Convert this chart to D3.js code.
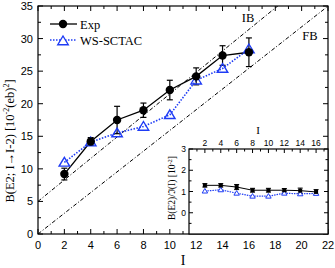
<!DOCTYPE html>
<html><head><meta charset="utf-8">
<script src="https://cdn.jsdelivr.net/npm/d3@7"></script>
<style>body{margin:0;background:#fff}svg{display:block}</style>
</head><body>
<script>
const spins = [2,4,6,8,10,12,14,16];
const expVals = [9.2,14.2,17.5,19.0,22.1,24.2,27.4,27.9];
const expErr  = [0.9,0.6,2.1,1.1,1.5,1.3,1.5,2.2];
const wsVals  = [11.0,14.1,15.5,16.5,18.3,23.6,25.4,28.4];
const insetExp = [1.29,1.29,1.21,1.06,1.06,1.06,1.04,0.98];
const insetExpErr = [0.08,0.08,0.12,0.09,0.09,0.08,0.12,0.11];
const insetWs  = [1.02,1.08,0.92,0.78,0.78,0.92,0.89,0.91];
const xTicks = [0,2,4,6,8,10,12,14,16,18,20,22];
const yTicks = [0,5,10,15,20,25,30,35];
const insetXTicks = [2,4,6,8,10,12,14,16];
const insetYTicks = [0,1,2,3];
const ibLine = {intercept:5.0, slope:1.65};
const fbLine = {intercept:0, slope:1.59};

const W=335,H=268;
const svg=d3.select("body").append("svg").attr("width",W).attr("height",H);
const L=38,R=328,T=6,B=234;
const x=d3.scaleLinear().domain([0,22]).range([L,R]);
const y=d3.scaleLinear().domain([0,35]).range([B,T]);
const blue="#1f3cf5";
const sans="Liberation Sans, Arial, sans-serif", serif="Liberation Serif, Times New Roman, serif";

svg.append("clipPath").attr("id","c").append("rect").attr("x",L).attr("y",T).attr("width",R-L).attr("height",B-T);
const g=svg.append("g").attr("clip-path","url(#c)");
[ibLine,fbLine].forEach(l=>{
  g.append("line").attr("x1",x(0)).attr("y1",y(l.intercept)).attr("x2",x(22)).attr("y2",y(l.intercept+l.slope*22))
   .attr("stroke","#000").attr("stroke-width",1).attr("stroke-dasharray","4,2,1,2");
});
const line=d3.line().x((d,i)=>x(spins[i])).y(d=>y(d));
g.append("path").attr("d",line(wsVals)).attr("fill","none").attr("stroke",blue).attr("stroke-width",1.6).attr("stroke-dasharray","1.5,1.5");
g.append("path").attr("d",line(expVals)).attr("fill","none").attr("stroke","#000").attr("stroke-width",1.3);
spins.forEach((s,i)=>{
  const cx=x(s);
  g.append("line").attr("x1",cx).attr("x2",cx).attr("y1",y(expVals[i]-expErr[i])).attr("y2",y(expVals[i]+expErr[i])).attr("stroke","#000").attr("stroke-width",1.2);
  [expVals[i]-expErr[i],expVals[i]+expErr[i]].forEach(v=>g.append("line").attr("x1",cx-3).attr("x2",cx+3).attr("y1",y(v)).attr("y2",y(v)).attr("stroke","#000").attr("stroke-width",1.2));
});
const tri=(cx,cy,s)=>`M${cx},${cy-s}L${cx+s*1.05},${cy+s*0.75}L${cx-s*1.05},${cy+s*0.75}Z`;
spins.forEach((s,i)=>{
  g.append("path").attr("d",tri(x(s),y(wsVals[i]),5)).attr("fill","none").attr("stroke",blue).attr("stroke-width",1.4);
});
spins.forEach((s,i)=>{
  g.append("circle").attr("cx",x(s)).attr("cy",y(expVals[i])).attr("r",4.2).attr("fill","#000");
});

svg.append("rect").attr("x",L).attr("y",T).attr("width",R-L).attr("height",B-T).attr("fill","none").attr("stroke","#000").attr("stroke-width",1.2);
function ticksX(scale,vals,minorVals,yPos,dir,len,mlen){
  vals.forEach(v=>svg.append("line").attr("x1",scale(v)).attr("x2",scale(v)).attr("y1",yPos).attr("y2",yPos+dir*len).attr("stroke","#000").attr("stroke-width",1));
  minorVals.forEach(v=>svg.append("line").attr("x1",scale(v)).attr("x2",scale(v)).attr("y1",yPos).attr("y2",yPos+dir*mlen).attr("stroke","#000").attr("stroke-width",1));
}
function ticksY(scale,vals,minorVals,xPos,dir,len,mlen){
  vals.forEach(v=>svg.append("line").attr("y1",scale(v)).attr("y2",scale(v)).attr("x1",xPos).attr("x2",xPos+dir*len).attr("stroke","#000").attr("stroke-width",1));
  minorVals.forEach(v=>svg.append("line").attr("y1",scale(v)).attr("y2",scale(v)).attr("x1",xPos).attr("x2",xPos+dir*mlen).attr("stroke","#000").attr("stroke-width",1));
}
const xMinor=d3.range(1,22,2), yMinor=d3.range(2.5,35,5);
ticksX(x,xTicks,xMinor,B,-1,5,3);
ticksX(x,xTicks,xMinor,T,1,5,3);
ticksY(y,yTicks,yMinor,L,1,5,3);
ticksY(y,yTicks,yMinor,R,-1,5,3);
xTicks.forEach(v=>svg.append("text").attr("x",x(v)).attr("y",B+15).attr("text-anchor","middle").attr("font-family",sans).attr("font-size",11).text(v));
yTicks.forEach(v=>svg.append("text").attr("x",L-5).attr("y",y(v)+4).attr("text-anchor","end").attr("font-family",sans).attr("font-size",11).text(v));
svg.append("text").attr("x",183).attr("y",265).attr("text-anchor","middle").attr("font-family",serif).attr("font-size",14).text("I");
const yl=svg.append("text").attr("transform","translate(14,141) rotate(-90)").attr("text-anchor","middle").attr("font-family",serif).attr("font-size",12.5);
yl.append("tspan").text("B(E2; I→I-2) [10");
yl.append("tspan").attr("dy",-5).attr("font-size",8).text("-2");
yl.append("tspan").attr("dy",5).text("(eb)");
yl.append("tspan").attr("dy",-5).attr("font-size",8).text("2");
yl.append("tspan").attr("dy",5).text("]");

svg.append("text").attr("x",248).attr("y",22).attr("text-anchor","middle").attr("font-family",serif).attr("font-size",12.5).text("IB");
svg.append("text").attr("x",310).attr("y",40).attr("text-anchor","middle").attr("font-family",serif).attr("font-size",12.5).text("FB");

svg.append("line").attr("x1",50).attr("x2",77).attr("y1",24).attr("y2",24).attr("stroke","#000").attr("stroke-width",1.3);
svg.append("circle").attr("cx",63).attr("cy",24).attr("r",4.2).attr("fill","#000");
svg.append("text").attr("x",80).attr("y",28.5).attr("font-family",serif).attr("font-size",12.5).text("Exp");
svg.append("line").attr("x1",50).attr("x2",77).attr("y1",40).attr("y2",40).attr("stroke",blue).attr("stroke-width",1.6).attr("stroke-dasharray","1.5,1.5");
svg.append("path").attr("d",tri(63,41,5)).attr("fill","#fff").attr("stroke",blue).attr("stroke-width",1.4);
svg.append("text").attr("x",80).attr("y",44.5).attr("font-family",serif).attr("font-size",12.5).text("WS-SCTAC");

const iL=189,iR=328,iT=149,iB=234;
const ix=d3.scaleLinear().domain([0,17.5]).range([iL,iR]);
const iy=d3.scaleLinear().domain([-1,3]).range([iB,iT]);
svg.append("rect").attr("x",iL).attr("y",iT).attr("width",iR-iL).attr("height",iB-iT).attr("fill","#fff").attr("stroke","#000").attr("stroke-width",1.2);
const iline=d3.line().x((d,i)=>ix(spins[i])).y(d=>iy(d));
svg.append("path").attr("d",iline(insetWs)).attr("fill","none").attr("stroke",blue).attr("stroke-width",1.2).attr("stroke-dasharray","1.5,1");
svg.append("path").attr("d",iline(insetExp)).attr("fill","none").attr("stroke","#000").attr("stroke-width",1);
spins.forEach((s,i)=>{
  const cx=ix(s);
  const lo=iy(insetExp[i]-insetExpErr[i]),hi=iy(insetExp[i]+insetExpErr[i]);
  svg.append("line").attr("x1",cx).attr("x2",cx).attr("y1",lo).attr("y2",hi).attr("stroke","#000");
  [lo,hi].forEach(v=>svg.append("line").attr("x1",cx-2.5).attr("x2",cx+2.5).attr("y1",v).attr("y2",v).attr("stroke","#000"));
  svg.append("path").attr("d",tri(cx,iy(insetWs[i]),2.6)).attr("fill","#fff").attr("stroke",blue).attr("stroke-width",1);
  svg.append("rect").attr("x",cx-2).attr("y",iy(insetExp[i])-2).attr("width",4).attr("height",4).attr("fill","#000");
});
const ixMinor=d3.range(1,17.5,2), iyMinor=[-0.5,0.5,1.5,2.5];
ticksX(ix,insetXTicks,ixMinor,iT,1,4,2.5);
ticksY(iy,insetYTicks,iyMinor,iL,1,4,2.5);
ticksY(iy,insetYTicks,iyMinor,iR,-1,4,2.5);
insetXTicks.forEach(v=>svg.append("text").attr("x",ix(v)).attr("y",iT-3).attr("text-anchor","middle").attr("font-family",sans).attr("font-size",8.5).text(v));
insetYTicks.forEach(v=>svg.append("text").attr("x",iL-3).attr("y",iy(v)+3).attr("text-anchor","end").attr("font-family",sans).attr("font-size",8.5).text(v));
svg.append("text").attr("x",258).attr("y",134).attr("text-anchor","middle").attr("font-family",serif).attr("font-size",11).text("I");
const il=svg.append("text").attr("transform","translate(175,188) rotate(-90)").attr("text-anchor","middle").attr("font-family",serif).attr("font-size",9.5);
il.append("tspan").text("B(E2)/ℑ(I) [10");
il.append("tspan").attr("dy",-3.5).attr("font-size",6.5).text("-2");
il.append("tspan").attr("dy",3.5).text("]");
</script>
</body></html>
